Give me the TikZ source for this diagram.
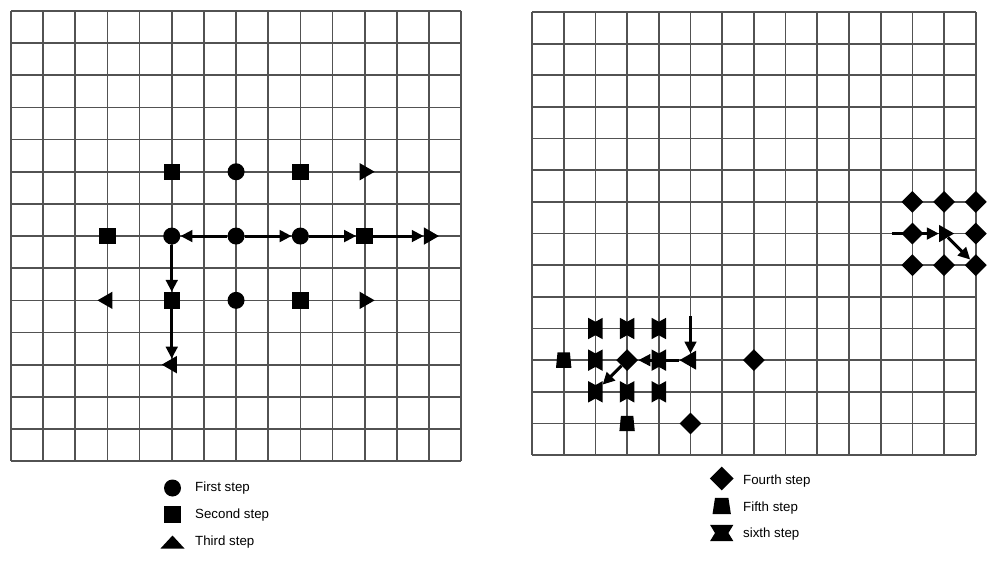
\documentclass[tikz,border=0pt]{standalone}
\usepackage{fontspec}
\setmainfont{Liberation Sans}
\usetikzlibrary{shapes.geometric,arrows.meta}
\newcommand\hgvert[2]{\fill[black] (#1.south west) -- ([yshift=#2]#1.south) -- (#1.south east) -- (#1.north east) -- ([yshift=-#2]#1.north) -- (#1.north west) -- cycle;}
\newcommand\hghoriz[2]{\fill[black] (#1.south west) -- (#1.south east) -- ([xshift=-#2]#1.east) -- (#1.north east) -- (#1.north west) -- ([xshift=#2]#1.west) -- cycle;}
\newcommand\trapfill[2]{\fill[black] (#1.south west) -- (#1.south east) -- ([xshift=-#2]#1.north east) -- ([xshift=#2]#1.north west) -- cycle;}
\begin{document}
\begin{tikzpicture}[x=1pt,y=-1pt,
  gridline/.style={draw=black!68, line width=1.7pt},
  circ/.style={circle, fill=black, inner sep=0pt, minimum size=17pt},
  sq/.style={rectangle, fill=black, inner sep=0pt, minimum size=16.5pt},
  tri/.style={regular polygon, regular polygon sides=3, fill=black, inner sep=0pt, minimum size=20pt, shape border rotate=#1},
  dia/.style={diamond, fill=black, inner sep=0pt, minimum width=22pt, minimum height=22pt},
  trapbox/.style={rectangle, inner sep=0pt, minimum width=15pt, minimum height=15pt},
  hg/.style={rectangle, inner sep=0pt, minimum width=14pt, minimum height=21pt},
  arr/.style={-{Triangle[length=12pt,width=11.5pt]}, line width=3pt, black},
  legtext/.style={anchor=west, font=\fontsize{13.3}{15}\selectfont, inner sep=0pt}
]
\fill[white] (0,0) rectangle (1000,562);
\useasboundingbox (0,0) rectangle (1000,562);

% ---------- left grid ----------
\begin{scope}[shift={(11,11)}, x=32.15pt, y=-32.15pt]
  \foreach \i in {0,...,14} {
    \draw[gridline] (\i,0) -- (\i,14);
    \draw[gridline] (0,\i) -- (14,\i);
  }
  % row 5
  \node[sq]  (s55)  at (5,5) {};
  \node[circ](c75)  at (7,5) {};
  \node[sq]  (s95)  at (9,5) {};
  \node[tri=-90] (t115) at (11,5) {};
  % row 7
  \node[sq]  (s37)  at (3,7) {};
  \node[circ](c57)  at (5,7) {};
  \node[circ](c77)  at (7,7) {};
  \node[circ](c97)  at (9,7) {};
  \node[sq]  (s117) at (11,7) {};
  \node[tri=-90] (t137) at (13,7) {};
  % row 9
  \node[tri=90] (t39) at (3,9) {};
  \node[sq]  (s59)  at (5,9) {};
  \node[circ](c79)  at (7,9) {};
  \node[sq]  (s99)  at (9,9) {};
  \node[tri=-90] (t119) at (11,9) {};
  % row 11
  \node[tri=90] (t511) at (5,11) {};
  % arrows
  \draw[arr] (c77) -- (c57);
  \draw[arr] (c77) -- (c97);
  \draw[arr] (c97) -- (s117);
  \draw[arr] (s117) -- (t137);
  \draw[arr] (c57) -- (s59);
  \draw[arr] (s59) -- (t511);
\end{scope}

% ---------- right grid ----------
\begin{scope}[shift={(532,12)}, x=31.7pt, y=-31.65pt]
  \foreach \i in {0,...,14} {
    \draw[gridline] (\i,0) -- (\i,14);
    \draw[gridline] (0,\i) -- (14,\i);
  }
  % right cluster
  \node[dia] (d126) at (12,6) {};
  \node[dia] (d136) at (13,6) {};
  \node[dia] (d146) at (14,6) {};
  \node[dia] (d127) at (12,7) {};
  \node[dia] (d147) at (14,7) {};
  \node[dia] (d128) at (12,8) {};
  \node[dia] (d138) at (13,8) {};
  \node[dia] (d148) at (14,8) {};
  \node[tri=-90] (r137) at (13,7) {};
  \coordinate (st1) at (11.35,7);
  % left cluster
  \node[hg] (h210) at (2,10) {};
  \node[hg] (h310) at (3,10) {};
  \node[hg] (h410) at (4,10) {};
  \node[hg] (h211) at (2,11) {};
  \node[hg] (h411) at (4,11) {};
  \node[hg] (h212) at (2,12) {};
  \node[hg] (h312) at (3,12) {};
  \node[hg] (h412) at (4,12) {};
  \foreach \n in {h210,h310,h410,h211,h411,h212,h312,h412} {\hgvert{\n}{4pt}}
  \node[trapbox] (q111) at (1,11) {};
  \node[trapbox] (q313) at (3,13) {};
  \trapfill{q111}{1.5pt}
  \trapfill{q313}{1.5pt}
  \node[dia] (d311) at (3,11) {};
  \node[dia] (d711) at (7,11) {};
  \node[dia] (d513) at (5,13) {};
  \node[tri=90, minimum size=22pt] (r511) at (5,11) {};
  \coordinate (st2) at (5,9.62);
  % arrows
  \draw[arr] (st1) -- (r137);
  \draw[arr] (r137) -- (d148);
  \draw[arr] (st2) -- (r511);
  \draw[arr] (r511) -- (d311);
  \draw[arr] (d311) -- (h212);
\end{scope}

% ---------- legends ----------
\node[circ] (lc) at (172.5,488) {};
\node[sq] (ls) at (172.5,514.5) {};
\fill[black] (160.5,548.5) -- (184.5,548.5) -- (172.5,535.5) -- cycle;
\node[legtext] (lt1) at (195,488) {First step};
\node[legtext] (lt2) at (195,515) {Second step};
\node[legtext] (lt3) at (195,542) {Third step};

\node[dia, minimum width=24pt, minimum height=24pt] (ld) at (721.7,478.5) {};
\node[trapbox, minimum width=18pt, minimum height=16pt] (lq) at (721.7,506) {};
\trapfill{lq}{2.5pt}
\node[rectangle, inner sep=0pt, minimum width=23pt, minimum height=16pt] (lh) at (721.7,533) {};
\hghoriz{lh}{5pt}
\node[legtext] (lt4) at (743,481.5) {Fourth step};
\node[legtext] (lt5) at (743,508) {Fifth step};
\node[legtext] (lt6) at (743,534.5) {sixth step};
\end{tikzpicture}
\end{document}
